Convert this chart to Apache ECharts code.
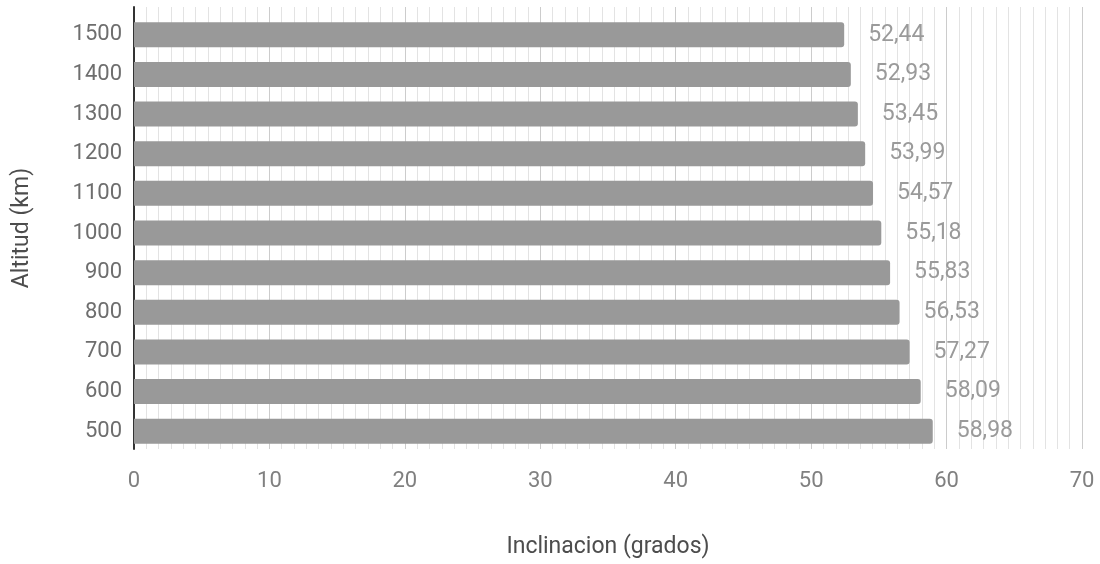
<!DOCTYPE html>
<html>
<head>
<meta charset="utf-8">
<script src="https://cdn.jsdelivr.net/npm/echarts@6/dist/echarts.min.js"></script>
<style>
html,body{margin:0;padding:0;background:#fff;}
#chart{width:1100px;height:564px;}
</style>
</head>
<body>
<div id="chart"></div>
<script>
var categories = ['500','600','700','800','900','1000','1100','1200','1300','1400','1500'];
var values = [58.98, 58.09, 57.27, 56.53, 55.83, 55.18, 54.57, 53.99, 53.45, 52.93, 52.44];
var xTicks = [0, 10, 20, 30, 40, 50, 60, 70];

var chart = echarts.init(document.getElementById('chart'), null, {renderer: 'canvas'});
var font = 'Roboto';
chart.setOption({
  animation: false,
  textStyle: {fontFamily: font},
  grid: [
    {left: 134, right: 18, top: 7, bottom: 107},
    {left: 134, right: 18, top: 15, bottom: 113}
  ],
  xAxis: [
    {
      gridIndex: 0, type: 'value', min: xTicks[0], max: xTicks[xTicks.length - 1], interval: 10,
      axisLine: {show: false}, axisTick: {show: false},
      axisLabel: {color: '#808080', fontSize: 22, fontFamily: font, margin: 21},
      splitLine: {show: true, lineStyle: {color: '#cccccc', width: 1}},
      minorTick: {show: false, splitNumber: 11},
      minorSplitLine: {show: true, lineStyle: {color: '#e3e3e3', width: 1}},
      name: 'Inclinacion (grados)', nameLocation: 'middle', nameGap: 87,
      nameTextStyle: {color: '#4d4d4d', fontSize: 23, fontFamily: font}
    },
    {
      gridIndex: 1, type: 'value', min: xTicks[0], max: xTicks[xTicks.length - 1],
      show: false
    }
  ],
  yAxis: [
    {
      gridIndex: 0, type: 'value', min: 0, max: 1,
      axisLine: {show: true, lineStyle: {color: '#333333', width: 2}},
      axisTick: {show: false}, axisLabel: {show: false}, splitLine: {show: false},
      name: 'Altitud (km)', nameLocation: 'middle', nameGap: 100,
      nameTextStyle: {color: '#4d4d4d', fontSize: 23, fontFamily: font}
    },
    {
      gridIndex: 1, type: 'category', data: categories,
      axisLine: {show: false}, axisTick: {show: false},
      axisLabel: {color: '#6e6e6e', fontSize: 22, fontFamily: font, margin: 12},
      splitLine: {show: false}
    }
  ],
  series: [{
    type: 'bar', xAxisIndex: 1, yAxisIndex: 1,
    data: values, barWidth: 25,
    itemStyle: {color: '#999999', borderRadius: [0, 3, 3, 0]},
    label: {
      show: true, position: 'right', distance: 24,
      color: '#9a9a9a', fontSize: 23, fontFamily: font,
      formatter: function (p) { return p.value.toFixed(2).replace('.', ','); }
    }
  }]
});
</script>
</body>
</html>
